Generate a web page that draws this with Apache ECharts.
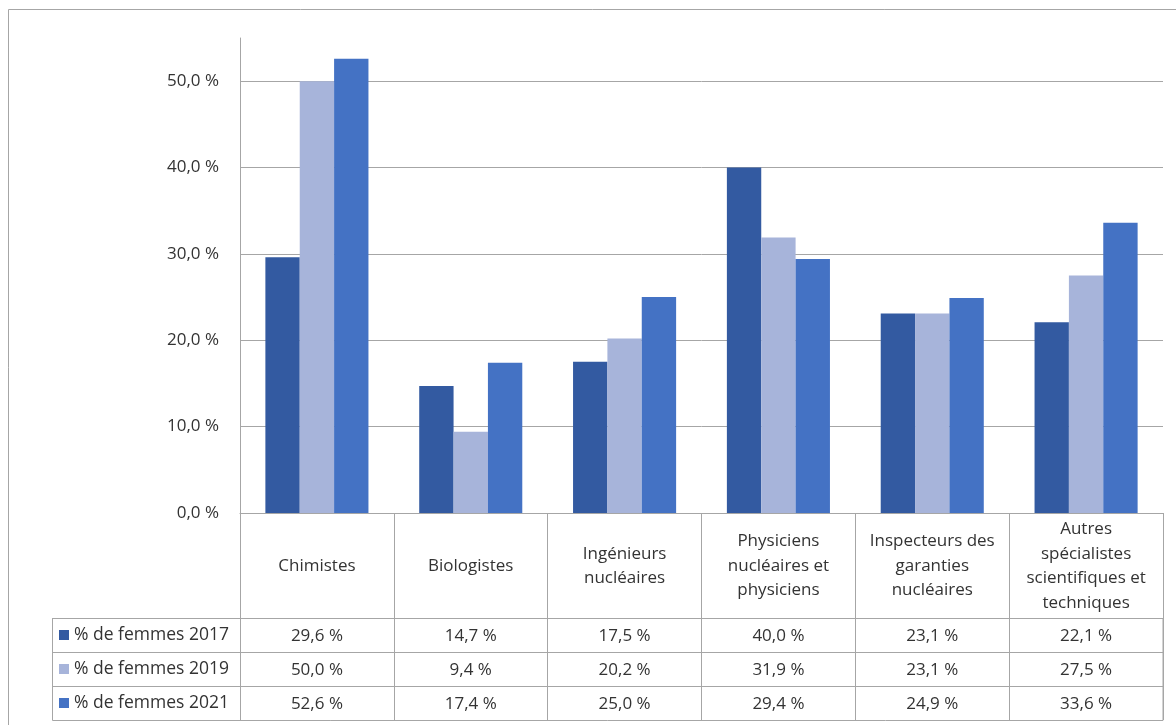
<!DOCTYPE html>
<html>
<head>
<meta charset="utf-8">
<script src="https://cdn.jsdelivr.net/npm/echarts@6/dist/echarts.min.js"></script>
<style>
html, body { margin: 0; padding: 0; background: #fff; }
#chart { width: 1176px; height: 725px; }
</style>
</head>
<body>
<div id="chart"></div>
<script>
// categories (line breaks as in the data table header)
var categories = [
	'Chimistes',
	'Biologistes',
	'Ingénieurs\nnucléaires',
	'Physiciens\nnucléaires et\nphysiciens',
	'Inspecteurs des\ngaranties\nnucléaires',
	'Autres\nspécialistes\nscientifiques et\ntechniques'
]
var seriesNames = ['% de femmes 2017', '% de femmes 2019', '% de femmes 2021']
var femmes2017 = [29.6, 14.7, 17.5, 40.0, 23.1, 22.1]
var femmes2019 = [50.0, 9.4, 20.2, 31.9, 23.1, 27.5]
var femmes2021 = [52.6, 17.4, 25.0, 29.4, 24.9, 33.6]
var yMin = 0
var yMax = 55
var yInterval = 10

var seriesData = [femmes2017, femmes2019, femmes2021]
var colors = ['#335aa1', '#a7b4da', '#4472c4']

// layout
var W = 1176, H = 725
var gridLeft = 240, gridRight = 13, gridTop = 38, axisY = 513
var headerH = 105, rowH = 34, legendLeft = 52
var lineColor = '#a6a6a6'
var textColor = '#333333'
var font = '"Open Sans", sans-serif'
var fontSize = 17

function fmt(v) {
	return v.toFixed(1).replace('.', ',') + ' %'
}

var xAxes = [{
	type: 'category',
	data: categories,
	axisLine: { lineStyle: { color: lineColor } },
	axisTick: { show: true, interval: 0, length: headerH, lineStyle: { color: lineColor } },
	axisLabel: {
		interval: 0, margin: 53, verticalAlign: 'middle', lineHeight: 24.5,
		color: textColor, fontSize: fontSize, fontFamily: font
	},
	splitLine: { show: false }
}]
// one hidden-ish category axis per table row, values come from the series arrays
seriesData.forEach(function (vals, k) {
	xAxes.push({
		type: 'category',
		data: vals.map(fmt),
		position: 'bottom',
		offset: headerH + rowH * k,
		axisLine: { lineStyle: { color: lineColor } },
		axisTick: { show: true, interval: 0, length: rowH, lineStyle: { color: lineColor } },
		axisLabel: {
			interval: 0, margin: 18, verticalAlign: 'middle',
			color: textColor, fontSize: fontSize, fontFamily: font
		},
		splitLine: { show: false }
	})
})

var tableTop = axisY + headerH
var graphics = [
	{ type: 'rect', silent: true, shape: { x: 8.5, y: 9.5, width: W + 50, height: H + 50 }, style: { fill: 'none', stroke: lineColor } },
	{ type: 'rect', silent: true, shape: { x: legendLeft + 0.5, y: tableTop + 0.5, width: W - gridRight - legendLeft - 0.5, height: rowH * 3 }, style: { fill: 'none', stroke: lineColor } }
]
for (var k = 0; k < 3; k++) {
	graphics.push({
		type: 'line', silent: true,
		shape: { x1: legendLeft, y1: tableTop + rowH * k + 0.5, x2: gridLeft, y2: tableTop + rowH * k + 0.5 },
		style: { stroke: lineColor }
	})
}

var myChart = echarts.init(document.getElementById('chart'))
var option = {
	animation: false,
	color: colors,
	grid: { left: gridLeft, right: gridRight, top: gridTop, bottom: H - axisY, containLabel: false },
	legend: {
		data: seriesNames,
		orient: 'vertical',
		left: legendLeft + 7,
		top: tableTop,
		padding: 0,
		itemGap: 0,
		itemWidth: 10,
		itemHeight: 10,
		icon: 'rect',
		selectedMode: false,
		textStyle: { fontSize: 17.5, lineHeight: rowH, color: textColor, fontFamily: font }
	},
	xAxis: xAxes,
	yAxis: {
		type: 'value',
		min: yMin,
		max: yMax,
		interval: yInterval,
		axisLine: { show: true, lineStyle: { color: lineColor } },
		axisTick: { show: false },
		axisLabel: {
			margin: 21, color: textColor, fontSize: fontSize, fontFamily: font,
			showMaxLabel: false,
			formatter: function (v) { return fmt(v) }
		},
		splitLine: { showMaxLine: false, lineStyle: { color: lineColor } }
	},
	series: seriesData.map(function (vals, i) {
		return {
			name: seriesNames[i],
			type: 'bar',
			xAxisIndex: 0,
			data: vals,
			barGap: '0%',
			barCategoryGap: '33%'
		}
	}),
	graphic: graphics
}
myChart.setOption(option)
</script>
</body>
</html>
